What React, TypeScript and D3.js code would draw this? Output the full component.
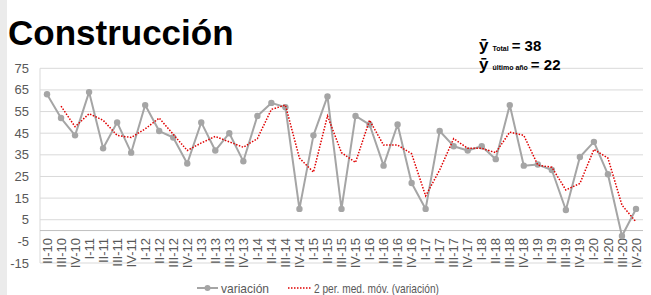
import * as d3 from 'd3'

// quarters II-10 .. IV-20
const quarters = [
  'II-10', 'III-10', 'IV-10',
  'I-11', 'II-11', 'III-11', 'IV-11',
  'I-12', 'II-12', 'III-12', 'IV-12',
  'I-13', 'II-13', 'III-13', 'IV-13',
  'I-14', 'II-14', 'III-14', 'IV-14',
  'I-15', 'II-15', 'III-15', 'IV-15',
  'I-16', 'II-16', 'III-16', 'IV-16',
  'I-17', 'II-17', 'III-17', 'IV-17',
  'I-18', 'II-18', 'III-18', 'IV-18',
  'I-19', 'II-19', 'III-19', 'IV-19',
  'I-20', 'II-20', 'III-20', 'IV-20'
]

const variacion = [
  63, 52, 44,
  64, 38, 50, 36,
  58, 46, 43, 31,
  50, 37, 45, 32,
  53, 59, 57, 10,
  44, 62, 10, 53,
  49, 30, 49, 22,
  10, 46, 39, 37,
  39, 33, 58, 30,
  30.5, 28, 9.5, 34,
  41, 26, -2.5, 10
]

// 2 per. med. móv.
const mediaMovil: (number | null)[] = [
  null, 57.5, 48,
  54, 51, 44, 43,
  47, 52, 44.5, 37,
  40.5, 43.5, 41, 38.5,
  42.5, 56, 58, 33.5,
  27, 53, 36, 31.5,
  51, 39.5, 39.5, 35.5,
  16, 28, 42.5, 38,
  38, 36, 45.5, 44,
  30.25, 29.25, 18.75, 21.75,
  37.5, 33.5, 11.75, 4
]

const yTicks = [75, 65, 55, 45, 35, 25, 15, 5, -5, -15]
const gridValues = [75, 65, 55, 45, 35, 25, 15, 5, -15]

const NARROW = "'Liberation Sans Narrow', 'Arial Narrow', 'Liberation Sans', Arial, sans-serif"
const GRAY = '#a5a5a5'
const RED = '#e00000'

export default function App() {
  const width = 651
  const height = 295
  const left = 40
  const right = 643

  const x = d3.scaleBand<string>().domain(quarters).range([left, right])
  const y = d3.scaleLinear().domain([-15, 75]).range([263, 68.3])
  const cx = (q: string) => (x(q) ?? 0) + x.bandwidth() / 2

  const line = d3.line<number>()
    .x((_, i) => cx(quarters[i]))
    .y(d => y(d))

  const maLine = d3.line<number | null>()
    .defined(d => d !== null)
    .x((_, i) => cx(quarters[i]))
    .y(d => y(d as number))

  return (
    <svg
      width={width}
      height={height}
      style={{ position: 'absolute', left: 0, top: 0, background: '#fff' }}
    >
      <rect x={0} y={0} width={7} height={height} fill="#ebebeb" />

      <text x={8} y={45} fontFamily="'Liberation Sans', Arial, sans-serif" fontWeight="bold" fontSize={35} fill="#000">
        Construcción
      </text>

      {/* gridlines */}
      {gridValues.map(v => (
        <line key={v} x1={left} x2={right} y1={y(v)} y2={y(v)} stroke="#d9d9d9" strokeWidth={1} />
      ))}
      {/* value axis + category axis at 0 */}
      <line x1={left} x2={left} y1={y(75)} y2={y(-15)} stroke="#d9d9d9" strokeWidth={1} />
      <line x1={left} x2={right} y1={y(0)} y2={y(0)} stroke="#bfbfbf" strokeWidth={1} />

      {/* y tick labels */}
      {yTicks.map(v => (
        <text key={v} x={29} y={y(v)} dy="0.35em" textAnchor="end" fontFamily={NARROW} fontSize={13} fill="#595959">
          {v}
        </text>
      ))}

      {/* x tick labels */}
      {quarters.map(q => (
        <text
          key={q}
          transform={`translate(${cx(q)},238) rotate(-90)`}
          dy="0.35em"
          textAnchor="end"
          fontFamily={NARROW}
          fontSize={13}
          fill="#595959"
        >
          {q}
        </text>
      ))}

      {/* annotation */}
      <g fontFamily={NARROW} fontWeight="bold" fill="#000">
        <text x={479} y={51}>
          <tspan fontSize={17}>ȳ</tspan>
          <tspan fontSize={7} dx={4}>Total</tspan>
          <tspan fontSize={15} dx={3}>= 38</tspan>
        </text>
        <text x={479} y={70}>
          <tspan fontSize={17}>ȳ</tspan>
          <tspan fontSize={7} dx={4}>último año</tspan>
          <tspan fontSize={15} dx={3}>= 22</tspan>
        </text>
      </g>

      {/* series */}
      <path d={line(variacion) ?? ''} fill="none" stroke={GRAY} strokeWidth={2} strokeLinejoin="round" />
      {variacion.map((v, i) => (
        <circle key={i} cx={cx(quarters[i])} cy={y(v)} r={3.2} fill={GRAY} />
      ))}
      <path d={maLine(mediaMovil) ?? ''} fill="none" stroke={RED} strokeWidth={1.5} strokeDasharray="1.5,1.5" />

      {/* legend */}
      <g fontFamily={NARROW} fontSize={13} fill="#595959">
        <line x1={197} x2={218} y1={288} y2={288} stroke={GRAY} strokeWidth={2} />
        <circle cx={207.5} cy={288} r={3} fill={GRAY} />
        <text x={221} y={292.5} textLength={48} lengthAdjust="spacingAndGlyphs">variación</text>
        <line x1={288} x2={312} y1={288} y2={288} stroke={RED} strokeWidth={1.5} strokeDasharray="1.5,1.5" />
        <text x={314} y={292.5} textLength={125} lengthAdjust="spacingAndGlyphs">2 per. med. móv. (variación)</text>
      </g>
    </svg>
  )
}
